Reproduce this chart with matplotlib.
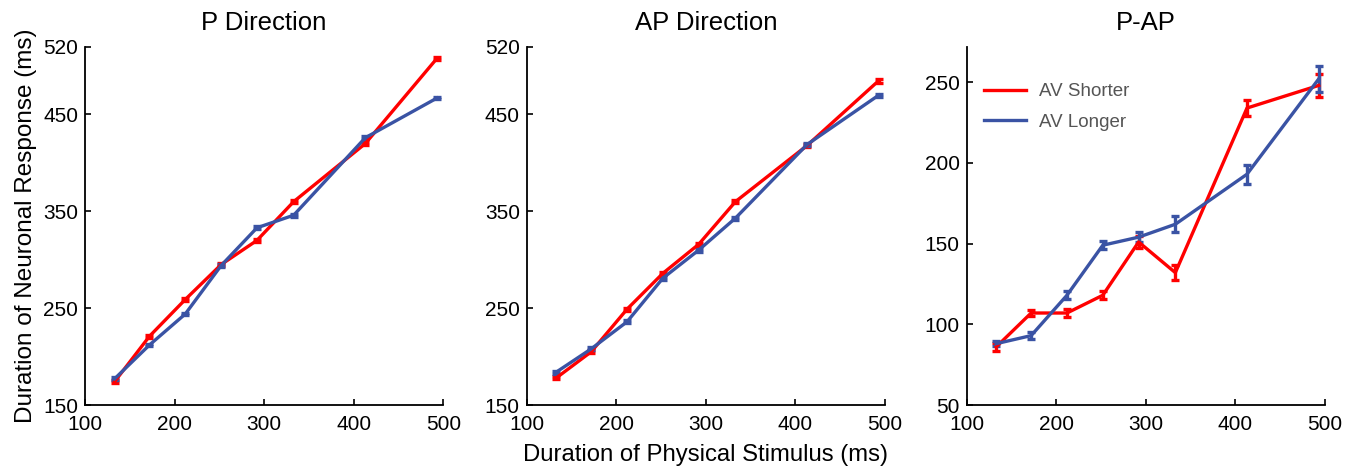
import numpy as np
import matplotlib
matplotlib.use("Agg")
import matplotlib.pyplot as plt

plt.rcParams["font.family"] = ["Liberation Sans", "DejaVu Sans"]

# stimulus durations (ms)
durations = [133, 172, 212, 252, 292, 333, 413, 493]

# P direction
p_short = [174, 221, 259, 295, 320, 360, 420, 508]
p_short_err = [1.5, 1.5, 1.5, 1.5, 1.5, 1.5, 1.5, 1.5]
p_long = [177, 212, 244, 294, 333, 346, 426, 467]
p_long_err = [1.5, 1.5, 1.5, 1.5, 1.5, 1.5, 1.5, 1.5]

# AP direction
ap_short = [178, 205, 249, 286, 316, 360, 418, 485]
ap_short_err = [1.5, 1.5, 1.5, 1.5, 1.5, 1.5, 1.5, 2.0]
ap_long = [184, 208, 236, 281, 310, 343, 419, 470]
ap_long_err = [1.5, 1.5, 1.5, 1.5, 1.5, 1.5, 1.5, 1.5]

# P - AP
d_short = [86, 107, 107, 118, 151, 132, 234, 248]
d_short_err = [2.5, 2, 2.5, 2.5, 4, 4.5, 5, 7]
d_long = [88, 93, 118, 149, 154, 162, 193, 252]
d_long_err = [1.5, 2, 2.5, 2.5, 3, 5, 6, 8]

titles = ["P Direction", "AP Direction", "P-AP"]
RED = "#ff0000"
BLUE = "#3a53a4"

fig = plt.figure(figsize=(13.51, 4.68), dpi=100)
lefts = [0.0629, 0.3899, 0.7155]
width = 0.2652
bottom, height = 0.1346, 0.7656

panels = [
    (p_short, p_short_err, p_long, p_long_err, (150, 520), [150, 250, 350, 450, 520]),
    (ap_short, ap_short_err, ap_long, ap_long_err, (150, 520), [150, 250, 350, 450, 520]),
    (d_short, d_short_err, d_long, d_long_err, (50, 272), [50, 100, 150, 200, 250]),
]

axes = []
for i, (ys, es, yl, el, ylim, yticks) in enumerate(panels):
    ax = fig.add_axes([lefts[i], bottom, width, height])
    ax.errorbar(durations, ys, yerr=es, color=RED, lw=2.4, capsize=3,
                capthick=2.4, elinewidth=2.4, label="AV Shorter")
    ax.errorbar(durations, yl, yerr=el, color=BLUE, lw=2.4, capsize=3,
                capthick=2.4, elinewidth=2.4, label="AV Longer")
    ax.set_xlim(100, 500)
    ax.set_ylim(*ylim)
    ax.set_xticks([100, 200, 300, 400, 500])
    ax.set_yticks(yticks)
    for s in ["top", "right"]:
        ax.spines[s].set_visible(False)
    for s in ["left", "bottom"]:
        ax.spines[s].set_linewidth(1.3)
    ax.tick_params(direction="in", length=4, width=1.2, labelsize=15)
    ax.tick_params(axis="x", pad=7)
    ax.tick_params(axis="y", pad=5)
    ax.set_title(titles[i], fontsize=18.5, pad=12)
    axes.append(ax)

axes[0].set_ylabel("Duration of Neuronal Response (ms)", fontsize=17.5, labelpad=4)
fig.text(0.522, 0.016, "Duration of Physical Stimulus (ms)", fontsize=17.2,
         ha="center", va="baseline")

h, l = axes[2].get_legend_handles_labels()
h = [hh[0] for hh in h]
leg = axes[2].legend(h, l, loc="upper left", bbox_to_anchor=(0.0, 0.945),
                     frameon=False, fontsize=13.5, handlelength=2.25,
                     handletextpad=0.7, labelspacing=0.72)
for t in leg.get_texts():
    t.set_color("#555555")

fig.savefig("out.png", dpi=100)
